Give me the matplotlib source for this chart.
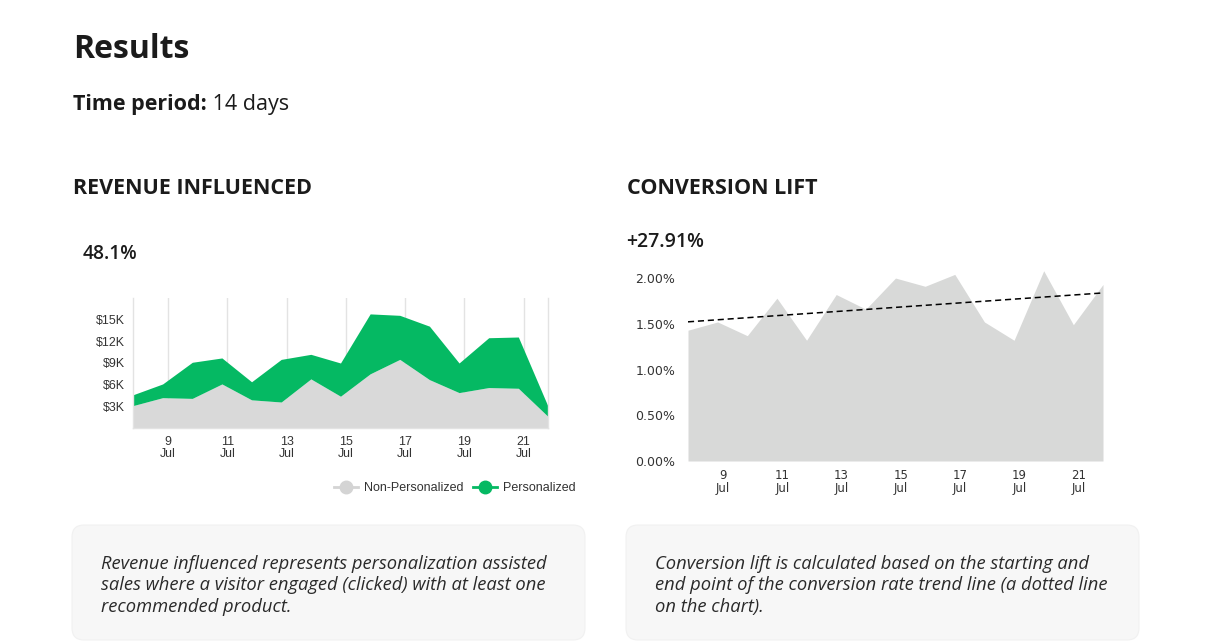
import numpy as np
import matplotlib
matplotlib.use("Agg")
import matplotlib.pyplot as plt
from matplotlib.lines import Line2D
from matplotlib.patches import FancyBboxPatch

# days of July shown on both charts
days = [8, 9, 10, 11, 12, 13, 14, 15, 16, 17, 18, 19, 20, 21, 22]
tick_days = [9, 11, 13, 15, 17, 19, 21]
tick_labels = [f"{d}\nJul" for d in tick_days]

# revenue in $K
non_personalized = [3.1, 4.2, 4.1, 6.1, 3.9, 3.6, 6.8, 4.4, 7.5, 9.5, 6.7, 4.9, 5.6, 5.5, 1.6]
personalized = [1.5, 1.9, 5.0, 3.6, 2.5, 5.9, 3.4, 4.6, 8.3, 6.1, 7.4, 4.1, 6.9, 7.1, 1.4]
rev_ticks = [3, 6, 9, 12, 15]

# conversion rate in %
conversion = [1.43, 1.52, 1.37, 1.78, 1.32, 1.82, 1.66, 2.00, 1.91, 2.04, 1.52, 1.32, 2.08, 1.49, 1.93]
conv_ticks = [0.0, 0.5, 1.0, 1.5, 2.0]

W, H = 1219, 642
fig = plt.figure(figsize=(W / 100, H / 100), dpi=100)
fig.patch.set_facecolor("white")

def fx(x):
    return x / W

def fy(y):
    return 1 - y / H

dark = "#1b1b1b"
green = "#05b963"
grey_fill = "#d9d9d9"
tick_shift = 0.18  # labels sit a bit right of the data points

# ---- header texts
fig.text(fx(73), fy(58), "Results", fontsize=23, fontweight="bold", family="Open Sans",
         color=dark, va="baseline")
t = fig.text(fx(73), fy(110), "Time period:", fontsize=15.5, fontweight="bold", family="Open Sans",
             color=dark, va="baseline")
fig.canvas.draw()
bb = t.get_window_extent(fig.canvas.get_renderer())
fig.text(bb.x1 / W, fy(110), " 14 days", fontsize=15.5, family="Open Sans",
         color=dark, va="baseline")

fig.text(fx(73), fy(189), "REVENUE INFLUENCED", fontsize=15.5, fontweight="bold",
         family="Open Sans", color=dark, va="center")
fig.text(fx(627), fy(189), "CONVERSION LIFT", fontsize=15.5, fontweight="bold",
         family="Open Sans", color=dark, va="center")
fig.text(fx(83), fy(254), "48.1%", fontsize=13.8, fontweight="semibold",
         family="Open Sans", color=dark, va="center")
fig.text(fx(626), fy(242), "+27.91%", fontsize=14, fontweight="semibold",
         family="Open Sans", color=dark, va="center")

# ---- revenue chart
ax1 = fig.add_axes([fx(133), fy(428), fx(415), 130 / H])
total = np.array(non_personalized) + np.array(personalized)
ax1.fill_between(days, 0, non_personalized, color=grey_fill, lw=0, zorder=2)
ax1.fill_between(days, non_personalized, total, color=green, lw=0, zorder=2)
ax1.set_xlim(days[0], days[-1])
ax1.set_ylim(0, 18)
xt = [d + tick_shift for d in tick_days]
ax1.set_xticks(xt)
ax1.set_xticklabels(tick_labels, family="Liberation Sans", fontsize=8.9, color="#333333",
                    linespacing=1.0)
ax1.set_yticks(rev_ticks)
ax1.set_yticklabels([f"${v}K" for v in rev_ticks], family="Liberation Sans", fontsize=8.9,
                    color="#333333")
ax1.tick_params(length=0, pad=6)
for x in xt:
    ax1.axvline(x, color="#e3e3e3", lw=1, zorder=1)
ax1.spines["top"].set_visible(False)
for s in ["left", "right", "bottom"]:
    ax1.spines[s].set_color("#e3e3e3")
    ax1.spines[s].set_linewidth(1)
ax1.set_facecolor("none")

handles = [
    Line2D([0], [0], color="#d4d4d4", lw=2, marker="o", markersize=9, label="Non-Personalized"),
    Line2D([0], [0], color=green, lw=2, marker="o", markersize=9, label="Personalized"),
]
fig.legend(handles=handles, loc="center right", bbox_to_anchor=(fx(576), fy(488)),
           ncol=2, frameon=False, prop={"family": "Liberation Sans", "size": 9},
           handlelength=1.9, handletextpad=0.5, columnspacing=0.8, labelcolor="#333333",
           borderaxespad=0, borderpad=0)

# ---- conversion chart
ax2 = fig.add_axes([fx(688), fy(461), fx(415), (461 - 268.9) / H])
ax2.fill_between(days, 0, conversion, color="#d8d9d8", lw=0)
slope, icpt = np.polyfit(days, conversion, 1)
trend = [slope * d + icpt for d in (days[0], days[-1])]
ax2.plot([days[0], days[-1]], trend, color="black", lw=1.1, ls=(0, (4, 2.5)))
ax2.set_xlim(days[0], days[-1])
ax2.set_ylim(0, 2.1)
ax2.set_xticks(xt)
ax2.set_xticklabels(tick_labels, family="DejaVu Sans", fontsize=8.5, color="#333333",
                    linespacing=1.0)
ax2.set_yticks(conv_ticks)
ax2.set_yticklabels([f"{v:.2f}%" for v in conv_ticks], family="DejaVu Sans", fontsize=9,
                    color="#333333")
ax2.tick_params(axis="x", length=0, pad=6)
ax2.tick_params(axis="y", length=0, pad=9)
for s in ax2.spines.values():
    s.set_visible(False)

# ---- note boxes
desc = [
    (72, "Revenue influenced represents personalization assisted\n"
         "sales where a visitor engaged (clicked) with at least one\n"
         "recommended product."),
    (626, "Conversion lift is calculated based on the starting and\n"
          "end point of the conversion rate trend line (a dotted line\n"
          "on the chart)."),
]
for x0, txt in desc:
    box = FancyBboxPatch(((x0) / 100, 2 / 100), 513 / 100, 115 / 100,
                         boxstyle="round,pad=0,rounding_size=0.12",
                         transform=fig.dpi_scale_trans, facecolor="#f7f7f7",
                         edgecolor="#f1f1f1", lw=0.8, zorder=0)
    fig.patches.append(box)
    fig.text(fx(x0 + 29), fy(555), txt, fontsize=13.2, style="italic", family="Open Sans",
             color="#2a2a2a", va="top", linespacing=1.25)

fig.savefig("out.png", dpi=100, facecolor="white")
